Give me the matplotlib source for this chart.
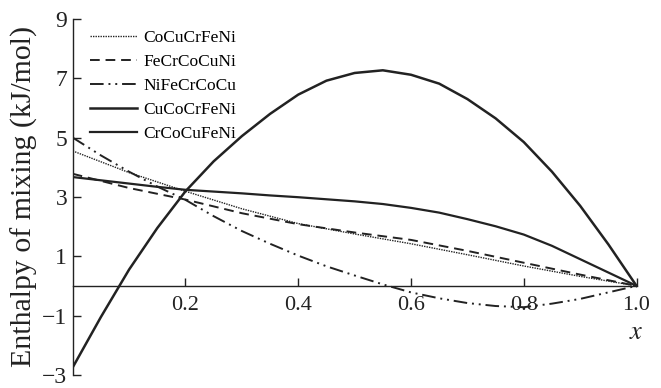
import matplotlib

matplotlib.use("Agg")
import matplotlib.pyplot as plt

# Mole fraction grid used for the read-off values
x_coarse = [0.0, 0.1, 0.2, 0.3, 0.4, 0.5, 0.6, 0.7, 0.8, 0.9, 1.0]
co_cu_cr_fe_ni = [4.55, 3.82, 3.19, 2.60, 2.10, 1.75, 1.42, 1.05, 0.67, 0.32, 0.0]
fe_cr_co_cu_ni = [3.78, 3.30, 2.91, 2.45, 2.08, 1.80, 1.55, 1.18, 0.78, 0.38, 0.0]

x_fine = [0.0, 0.05, 0.1, 0.15, 0.2, 0.25, 0.3, 0.35, 0.4, 0.45, 0.5,
          0.55, 0.6, 0.65, 0.7, 0.75, 0.8, 0.85, 0.9, 0.95, 1.0]
ni_fe_cr_co_cu = [5.0, 4.4, 3.85, 3.35, 2.9, 2.35, 1.85, 1.42, 1.02, 0.66, 0.35,
                  0.05, -0.22, -0.42, -0.58, -0.68, -0.72, -0.6, -0.44, -0.22, 0.0]
cu_co_cr_fe_ni = [-2.75, -1.05, 0.55, 1.95, 3.19, 4.2, 5.05, 5.8, 6.45, 6.92, 7.18,
                  7.27, 7.12, 6.82, 6.3, 5.65, 4.85, 3.85, 2.7, 1.4, 0.0]
cr_co_cu_fe_ni = [3.67, 3.56, 3.45, 3.34, 3.24, 3.18, 3.12, 3.05, 2.99, 2.92, 2.85,
                  2.76, 2.63, 2.47, 2.25, 2.01, 1.73, 1.35, 0.9, 0.45, 0.0]

x_ticks = [0.2, 0.4, 0.6, 0.8, 1.0]
y_ticks = [-3, -1, 1, 3, 5, 7, 9]

INK = "#222222"

plt.rcParams["font.family"] = ["Liberation Serif", "DejaVu Serif"]
plt.rcParams["mathtext.fontset"] = "stix"

fig = plt.figure(figsize=(6.61, 3.88), dpi=100)
ax = fig.add_axes([0.110, 0.034, 0.853, 0.917])

ax.plot(x_coarse, co_cu_cr_fe_ni, color=INK, lw=1.0, ls=(0, (1, 0.8)), label="CoCuCrFeNi")
ax.plot(x_coarse, fe_cr_co_cu_ni, color=INK, lw=1.4, ls=(0, (5, 3)), label="FeCrCoCuNi")
ax.plot(x_fine, ni_fe_cr_co_cu, color=INK, lw=1.4,
        ls=(0, (7, 2.5, 1, 2.5, 1, 2.5)), label="NiFeCrCoCu")
ax.plot(x_fine, cu_co_cr_fe_ni, color=INK, lw=1.8, label="CuCoCrFeNi")
ax.plot(x_fine, cr_co_cu_fe_ni, color=INK, lw=1.6, label="CrCoCuFeNi")

ax.set_xlim(0, 1.0)
ax.set_ylim(-3, 9)
ax.spines["top"].set_visible(False)
ax.spines["right"].set_visible(False)
ax.spines["bottom"].set_position(("data", 0))
for s in ("left", "bottom"):
    ax.spines[s].set_color(INK)
    ax.spines[s].set_linewidth(1.0)

ax.set_xticks(x_ticks)
ax.set_xticklabels([f"{v:.1f}" for v in x_ticks])
ax.set_yticks(y_ticks)
ax.set_yticklabels([f"{v}".replace("-", "\u2212") for v in y_ticks])
ax.tick_params(axis="both", direction="in", length=6, width=1.0, color=INK,
               labelcolor=INK)
ax.tick_params(axis="x", pad=7, labelsize=16)
ax.tick_params(axis="y", pad=4, labelsize=17)

ax.set_ylabel("Enthalpy of mixing (kJ/mol)", fontsize=21.5, color=INK, labelpad=3)
ax.text(1.0, -1.58, "$x$", fontsize=19, ha="center", va="center", color=INK)

ax.legend(loc="upper left", bbox_to_anchor=(0.011, 1.0), frameon=False, fontsize=12.5,
          handlelength=2.7, handletextpad=0.35, labelspacing=0.45, borderaxespad=0.25)

fig.savefig("out.png", dpi=100)
